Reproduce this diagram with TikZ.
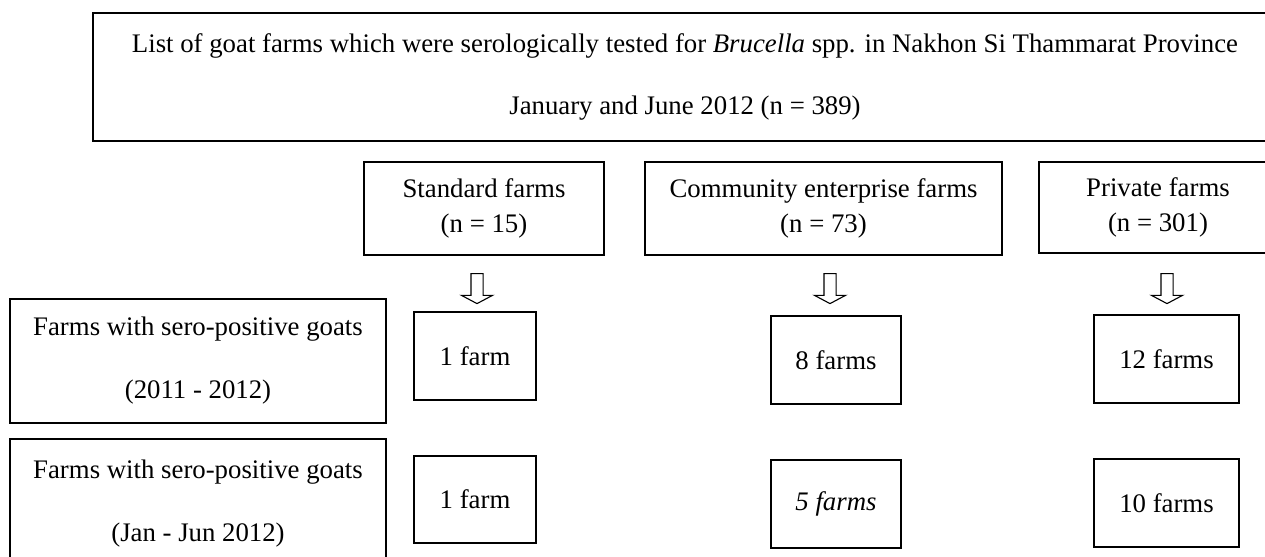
\documentclass[tikz,border=0pt]{standalone}
\usepackage{fontspec}
\setmainfont{Liberation Serif}
\usetikzlibrary{shapes.arrows}

\begin{document}
\fontsize{12}{15.7}\selectfont
\begin{tikzpicture}[x=0.448pt, y=-0.448pt,
		box/.style 2 args={draw, line width=0.9pt, align=center, inner sep=0pt,
			minimum width=#1*0.448pt, minimum height=#2*0.448pt},
		downarrow/.style={draw, line width=0.5pt, single arrow, rotate=-90,
			inner xsep=0pt, inner ysep=5.5*0.448pt, minimum height=30*0.448pt,
			single arrow head extend=9.5*0.448pt, single arrow tip angle=124}]
	\fill[white] (0,0) rectangle (1265,557);
	\useasboundingbox (0,0) rectangle (1265,557);
	\node[box={1184}{128}] (list) at (685,77) {List of goat farms which were serologically tested for \textit{Brucella} spp. in Nakhon Si Thammarat Province\\[12pt]January and June 2012 (n = 389)};
	\node[box={240}{93}] (std) at (484,208.5) {Standard farms\\(n = 15)};
	\node[box={357}{93}] (comm) at (823.5,208.5) {Community enterprise farms\\(n = 73)};
	\node[box={238}{91}] (priv) at (1158,207.5) {Private farms\\(n = 301)};
	\node[downarrow] (arrstd) at (477,287) {};
	\node[downarrow] (arrcomm) at (830,287) {};
	\node[downarrow] (arrpriv) at (1167,287) {};
	\node[box={376}{124}] (pos1) at (198,361) {Farms with sero-positive goats\\[12.5pt](2011 - 2012)};
	\node[box={376}{130}] (pos2) at (198,504) {Farms with sero-positive goats\\[12.5pt](Jan - Jun 2012)};
	\node[box={122}{88}] (std1) at (475,356) {1 farm};
	\node[box={130}{88}] (comm1) at (836,360) {8 farms};
	\node[box={145}{88}] (priv1) at (1166.5,359) {12 farms};
	\node[box={122}{87}] (std2) at (475,499.5) {1 farm};
	\node[box={130}{88}] (comm2) at (836,504) {\textit{5 farms}};
	\node[box={145}{88}] (priv2) at (1166.5,503) {10 farms};
\end{tikzpicture}
\end{document}
